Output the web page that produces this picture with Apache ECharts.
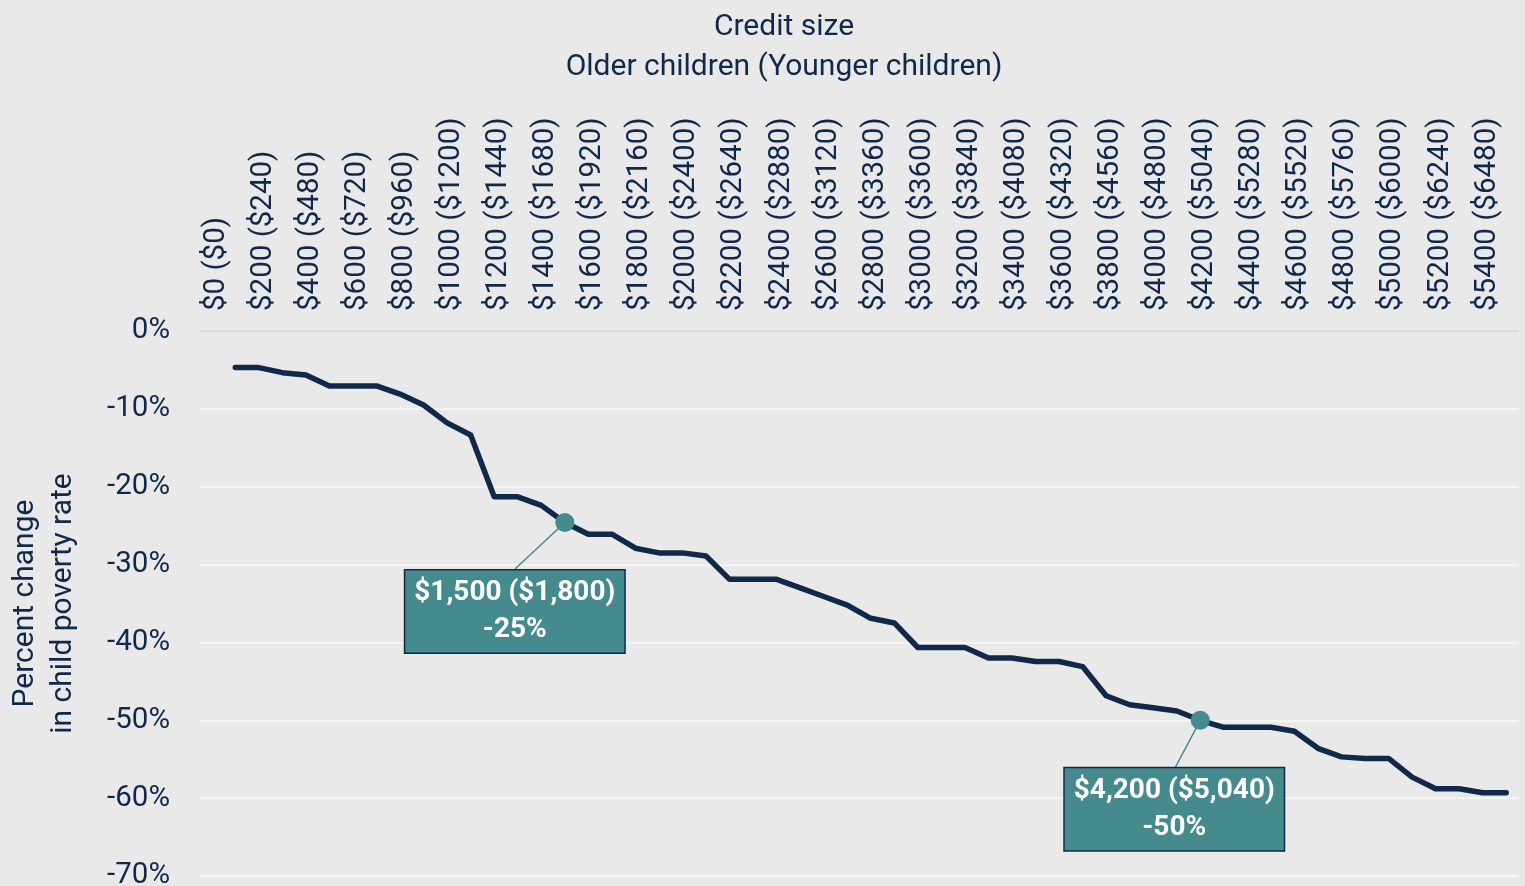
<!DOCTYPE html>
<html>
<head>
<meta charset="utf-8">
<script src="https://cdn.jsdelivr.net/npm/echarts@6/dist/echarts.min.js"></script>
<style>
html,body{margin:0;padding:0;background:#e9e9e9;}
#chart{width:1525px;height:886px;}
</style>
</head>
<body>
<div id="chart"></div>
<script>
// Credit size categories: older children (younger children)
const categories = [
 '$0 ($0)','$100 ($120)','$200 ($240)','$300 ($360)','$400 ($480)','$500 ($600)','$600 ($720)','$700 ($840)',
 '$800 ($960)','$900 ($1080)','$1000 ($1200)','$1100 ($1320)','$1200 ($1440)','$1300 ($1560)','$1400 ($1680)',
 '$1500 ($1800)','$1600 ($1920)','$1700 ($2040)','$1800 ($2160)','$1900 ($2280)','$2000 ($2400)','$2100 ($2520)',
 '$2200 ($2640)','$2300 ($2760)','$2400 ($2880)','$2500 ($3000)','$2600 ($3120)','$2700 ($3240)','$2800 ($3360)',
 '$2900 ($3480)','$3000 ($3600)','$3100 ($3720)','$3200 ($3840)','$3300 ($3960)','$3400 ($4080)','$3500 ($4200)',
 '$3600 ($4320)','$3700 ($4440)','$3800 ($4560)','$3900 ($4680)','$4000 ($4800)','$4100 ($4920)','$4200 ($5040)',
 '$4300 ($5160)','$4400 ($5280)','$4500 ($5400)','$4600 ($5520)','$4700 ($5640)','$4800 ($5760)','$4900 ($5880)',
 '$5000 ($6000)','$5100 ($6120)','$5200 ($6240)','$5300 ($6360)','$5400 ($6480)','$5500 ($6600)'
];
// Percent change in child poverty rate
const povertyChange = [
 null, -4.7, -4.7, -5.35, -5.65, -7.05, -7.05, -7.05, -8.1, -9.5, -11.8, -13.35, -21.3, -21.3, -22.4,
 -24.6, -26.1, -26.1, -27.9, -28.5, -28.5, -28.9, -31.9, -31.9, -31.9, -33.0, -34.1, -35.2, -36.9, -37.5,
 -40.65, -40.65, -40.65, -42.0, -42.0, -42.45, -42.45, -43.1, -46.85, -48.0, -48.4, -48.8, -50.0, -50.9,
 -50.9, -50.9, -51.4, -53.6, -54.7, -54.9, -54.9, -57.3, -58.8, -58.8, -59.3, -59.3
];
const yTicks = [0, -10, -20, -30, -40, -50, -60, -70];
// Highlighted points
const annotCategories = ['$1500 ($1800)', '$4200 ($5040)'];
const annotValues = [-24.6, -50.0];
const annotLabels = ['$1,500 ($1,800)\n-25%', '$4,200 ($5,040)\n-50%'];

const NAVY = '#10294b';
const TEAL = '#458a8c';
const FONT = 'Roboto';
const FS = 29.5;

// label box placement relative to point (pixel offsets)
const labelOffsets = [[-50, 89], [-26, 89]];
const boxTops = [[515, 569], [1175, 768]];

const chart = echarts.init(document.getElementById('chart'), null, {renderer: 'canvas'});
const option = {
  backgroundColor: '#e9e9e9',
  animation: false,
  textStyle: {fontFamily: FONT},
  graphic: [
    {type: 'text', x: 784, y: 27, style: {text: 'Credit size', fontFamily: FONT, fontSize: 30, fill: NAVY, textAlign: 'center', textVerticalAlign: 'middle'}},
    {type: 'text', x: 784, y: 67, style: {text: 'Older children (Younger children)', fontFamily: FONT, fontSize: 30, fill: NAVY, textAlign: 'center', textVerticalAlign: 'middle'}}
  ],
  grid: {left: 200, right: 7, top: 331, bottom: 10, containLabel: false, outerBoundsMode: 'none'},
  xAxis: {
    type: 'category',
    position: 'top',
    data: categories,
    boundaryGap: true,
    axisLine: {show: true, lineStyle: {color: '#d9d9d9', width: 2}},
    axisTick: {show: false},
    axisLabel: {
      interval: 1,
      rotate: 90,
      margin: 20,
      formatter: function (v) { return '{t|' + v + '}'; },
      rich: {
        t: {fontFamily: FONT, fontSize: FS, color: NAVY, padding: [9, 0, 0, 0]}
      },
      fontFamily: FONT,
      fontSize: FS,
      color: NAVY
    },
    splitLine: {show: false}
  },
  yAxis: {
    type: 'value',
    min: -70,
    max: 0,
    interval: 10,
    name: 'Percent change\nin child poverty rate',
    nameLocation: 'middle',
    nameGap: 118,
    nameTextStyle: {fontFamily: FONT, fontSize: 30, color: NAVY, lineHeight: 38},
    axisLine: {show: false},
    axisTick: {show: false},
    axisLabel: {
      margin: 30,
      fontFamily: FONT,
      fontSize: FS,
      color: NAVY,
      formatter: function (v) { return yTicks.indexOf(v) >= 0 ? v + '%' : ''; }
    },
    splitLine: {show: true, lineStyle: {color: '#f5f5f5', width: 2}}
  },
  series: [
    {
      type: 'line',
      data: povertyChange,
      symbol: 'none',
      connectNulls: false,
      lineStyle: {color: NAVY, width: 5.5, cap: 'round', join: 'round'},
      z: 2
    },
    {
      type: 'scatter',
      data: annotCategories.map((c, i) => [c, annotValues[i]]),
      symbol: 'circle',
      symbolSize: 19,
      itemStyle: {color: TEAL, opacity: 1},
      z: 4,
      label: {
        show: true,
        position: 'inside',
        formatter: function (p) { return annotLabels[p.dataIndex]; },
        fontFamily: FONT,
        fontSize: 28,
        fontWeight: 'bold',
        color: '#ffffff',
        lineHeight: 37,
        align: 'center',
        backgroundColor: TEAL,
        borderColor: NAVY,
        borderWidth: 1.5,
        padding: [3, 9, 5, 9]
      },
      labelLayout: function (params) {
        const o = labelOffsets[params.dataIndex];
        return {dx: o[0], dy: o[1]};
      },
      markLine: {
        silent: true,
        symbol: ['none', 'none'],
        label: {show: false},
        lineStyle: {color: TEAL, width: 1.5, type: 'solid'},
        z: 3,
        data: annotCategories.map((c, i) => [
          {coord: [c, annotValues[i]]},
          {x: boxTops[i][0], y: boxTops[i][1]}
        ])
      }
    }
  ]
};
chart.setOption(option);
</script>
</body>
</html>
